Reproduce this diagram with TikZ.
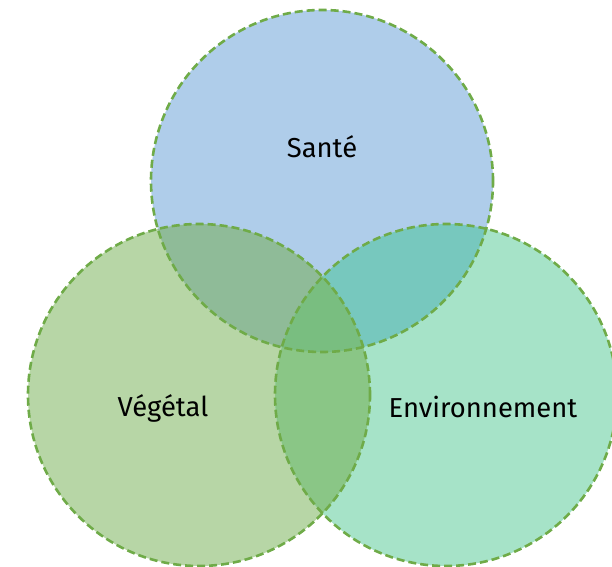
\documentclass[tikz,border=0pt]{standalone}
\usepackage{fontspec}
\setmainfont{Fira Sans}
\definecolor{bleu}{HTML}{AFCDEA}
\definecolor{vertclair}{HTML}{B7D6A6}
\definecolor{menthe}{HTML}{A6E3C8}
\definecolor{bleuvert}{HTML}{8FBB98}
\definecolor{bleumenthe}{HTML}{77C8BE}
\definecolor{vertmenthe}{HTML}{8AC686}
\definecolor{centre}{HTML}{79BE80}
\definecolor{bord}{HTML}{6FAB48}

\begin{document}
\begin{tikzpicture}[x=1bp,y=-1bp,
  contour/.style={draw=bord, line width=2.6bp, dash pattern=on 8bp off 4bp},
  etiq/.style={font=\fontsize{27.5}{32}\selectfont, text=black}]
\useasboundingbox (0,0) rectangle (612,567);
\def\r{171bp}
\coordinate (S) at (322,181);
\coordinate (V) at (199,395);
\coordinate (E) at (446,395);
% disques
\fill[bleu] (S) circle (\r);
\fill[vertclair] (V) circle (\r);
\fill[menthe] (E) circle (\r);
% intersections
\begin{scope}
  \clip (S) circle (\r);
  \fill[bleuvert] (V) circle (\r);
  \fill[bleumenthe] (E) circle (\r);
\end{scope}
\begin{scope}
  \clip (V) circle (\r);
  \fill[vertmenthe] (E) circle (\r);
\end{scope}
\begin{scope}
  \clip (S) circle (\r);
  \clip (V) circle (\r);
  \fill[centre] (E) circle (\r);
\end{scope}
% contours
\draw[contour] (S) circle (\r);
\draw[contour] (V) circle (\r);
\draw[contour] (E) circle (\r);
% textes
\node[etiq] (sante) at (322,147) {Santé};
\node[etiq] (vegetal) at (163,408) {Végétal};
\node[etiq] (environnement) at (483,407) {Environnement};
\end{tikzpicture}
\end{document}
